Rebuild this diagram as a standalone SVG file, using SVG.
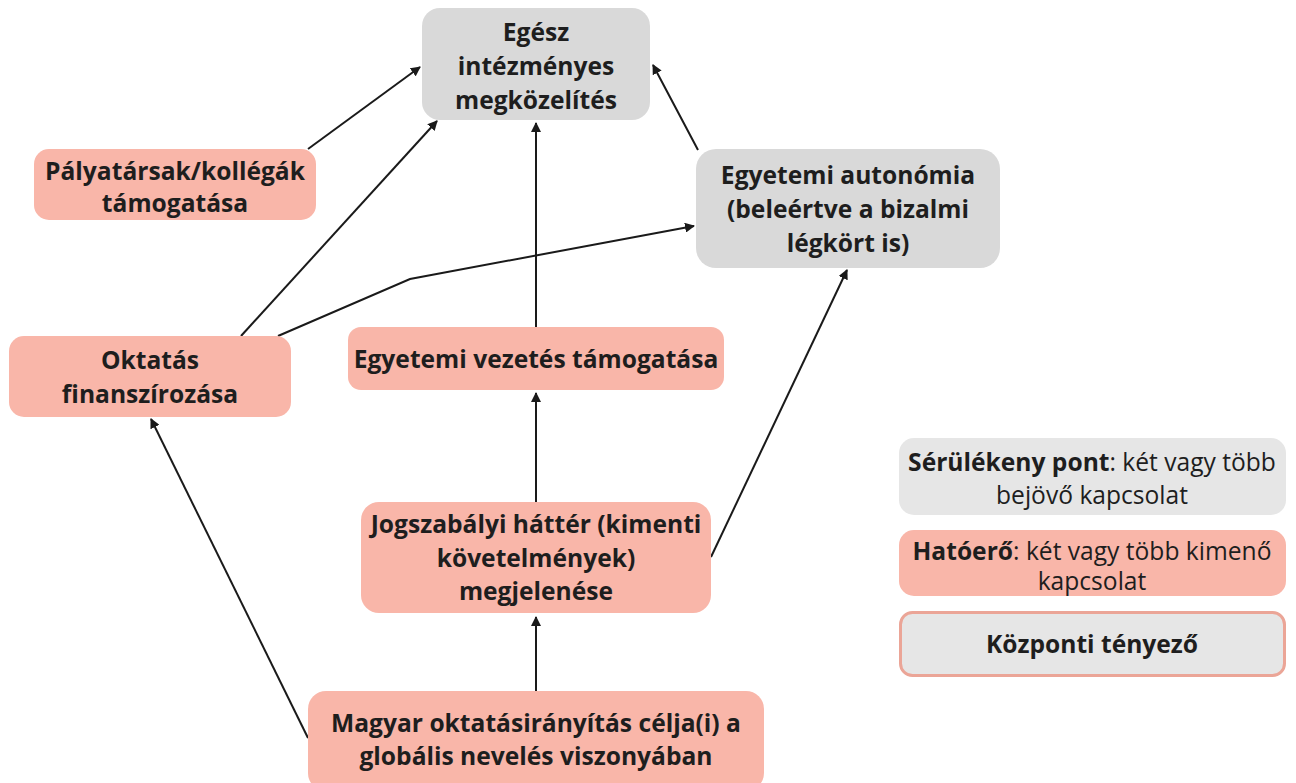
<svg xmlns="http://www.w3.org/2000/svg" width="1296" height="783" viewBox="0 0 1296 783">
  <defs>
    <marker id="arrow" viewBox="0 0 10 10" refX="9" refY="5" markerWidth="5" markerHeight="5" orient="auto-start-reverse" markerUnits="strokeWidth">
      <path d="M0,0 L10,5 L0,10 z" fill="#1a1a1a"/>
    </marker>
  </defs>
  <style>
    .gray { fill: #d9d9d9; }
    .salmon { fill: #f9b6a9; }
    .lg-gray { fill: #e6e6e6; }
    .central { fill: #e6e6e6; stroke: #eba597; stroke-width: 3; }
    text { font-family: "Open Sans", "Noto Sans", "Liberation Sans", sans-serif; font-size: 24.6px; fill: #1e1e1e; text-anchor: middle; dominant-baseline: central; }
    .b { font-weight: 700; }
    .conn { fill: none; stroke: #1a1a1a; stroke-width: 2; marker-end: url(#arrow); }
  </style>

  <!-- connectors -->
  <g id="connectors">
    <line class="conn" x1="308" y1="149" x2="420" y2="67"/>
    <line class="conn" x1="241" y1="336" x2="437" y2="121"/>
    <line class="conn" x1="536" y1="327" x2="536" y2="123"/>
    <line class="conn" x1="698" y1="150" x2="653" y2="65"/>
    <polyline class="conn" points="278,336 410,279 694,226"/>
    <line class="conn" x1="711" y1="557" x2="847" y2="270"/>
    <line class="conn" x1="536" y1="502" x2="536" y2="393"/>
    <line class="conn" x1="536" y1="691" x2="536" y2="617"/>
    <line class="conn" x1="308" y1="738" x2="151" y2="419"/>
  </g>

  <g id="node-egesz">
    <rect class="gray" x="422" y="8" width="228" height="112" rx="18"/>
    <text class="b" x="536" y="31">Egész</text>
    <text class="b" x="536" y="65">intézményes</text>
    <text class="b" x="536" y="99">megközelítés</text>
  </g>

  <g id="node-palyatarsak">
    <rect class="salmon" x="34" y="149" width="282" height="71" rx="15"/>
    <text class="b" x="175" y="170">Pályatársak/kollégák</text>
    <text class="b" x="175" y="202">támogatása</text>
  </g>

  <g id="node-autonomia">
    <rect class="gray" x="696" y="149" width="304" height="119" rx="20"/>
    <text class="b" x="848" y="174">Egyetemi autonómia</text>
    <text class="b" x="848" y="208">(beleértve a bizalmi</text>
    <text class="b" x="848" y="242">légkört is)</text>
  </g>

  <g id="node-oktatas">
    <rect class="salmon" x="9" y="336" width="282" height="81" rx="15"/>
    <text class="b" x="150" y="359">Oktatás</text>
    <text class="b" x="150" y="393">finanszírozása</text>
  </g>

  <g id="node-vezetes">
    <rect class="salmon" x="348" y="327" width="376" height="63" rx="13"/>
    <text class="b" x="536" y="358">Egyetemi vezetés támogatása</text>
  </g>

  <g id="node-jogszabalyi">
    <rect class="salmon" x="361" y="502" width="350" height="111" rx="18"/>
    <text class="b" x="536" y="523">Jogszabályi háttér (kimenti</text>
    <text class="b" x="536" y="557">követelmények)</text>
    <text class="b" x="536" y="590">megjelenése</text>
  </g>

  <g id="node-magyar">
    <rect class="salmon" x="308" y="691" width="456" height="100" rx="18"/>
    <text class="b" x="536" y="722">Magyar oktatásirányítás célja(i) a</text>
    <text class="b" x="536" y="755">globális nevelés viszonyában</text>
  </g>

  <!-- legend -->
  <g id="legend-serulekeny">
    <rect class="lg-gray" x="899" y="438" width="387" height="77" rx="15"/>
    <text x="1092" y="461"><tspan class="b">Sérülékeny pont</tspan>: két vagy több</text>
    <text x="1092" y="494">bejövő kapcsolat</text>
  </g>
  <g id="legend-hatoero">
    <rect class="salmon" x="899" y="530" width="387" height="66" rx="15"/>
    <text x="1092" y="550"><tspan class="b">Hatóerő</tspan>: két vagy több kimenő</text>
    <text x="1092" y="580">kapcsolat</text>
  </g>
  <g id="legend-kozponti">
    <rect class="central" x="900.5" y="612.5" width="384" height="63" rx="12"/>
    <text class="b" x="1092" y="643">Központi tényező</text>
  </g>
</svg>
